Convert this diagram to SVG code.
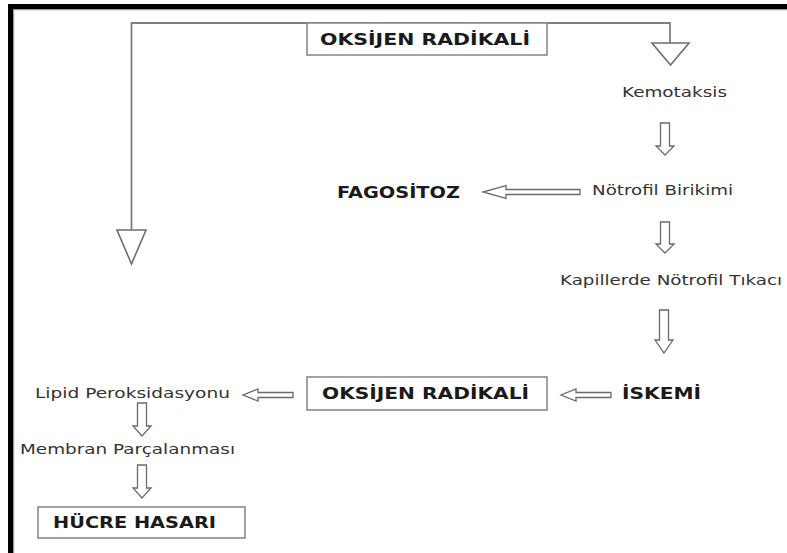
<svg xmlns="http://www.w3.org/2000/svg" width="787" height="553" viewBox="0 0 787 553">
<style>
.bd{font-family:"DejaVu Sans","Liberation Sans",sans-serif;font-weight:bold;font-size:16px;fill:#1a1a1a}
.rg{font-family:"DejaVu Sans","Liberation Sans",sans-serif;font-size:14.5px;fill:#333}
.box{fill:#fff;stroke:#8a8a8a;stroke-width:1.6}
.ln{fill:none;stroke:#808080;stroke-width:1.8}
.tri{fill:#fff;stroke:#6e6e6e;stroke-width:1.6;stroke-linejoin:miter}
.ha{fill:#fff;stroke:#6a6a6a;stroke-width:1.3;stroke-linejoin:miter}
</style>
<rect x="0" y="0" width="787" height="553" fill="#fff"/>
<g id="frame">
<rect x="9" y="4" width="778" height="5" fill="#000"/>
<rect x="8" y="4" width="5" height="549" fill="#000"/>
<line x1="13" y1="9.6" x2="787" y2="9.6" stroke="#9a9a9a" stroke-width="1.2"/>
<line x1="13.6" y1="9" x2="13.6" y2="553" stroke="#9a9a9a" stroke-width="1.2"/>
</g>
<g id="connectors">
<polyline class="ln" points="131.5,230 131.5,23 670,23 670,43"/>
<polygon class="tri" points="117,230 146,230 131.5,264"/>
<polygon class="tri" points="652,43 689,43 670.5,65"/>
<path class="ha" d="M660.5,123 H669.5 V146 H674 L665,155 L656,146 H660.5 Z"/>
<path class="ha" d="M660.5,222 H669.5 V244 H674 L665,253 L656,244 H660.5 Z"/>
<path class="ha" d="M659.5,310 H668.5 V340 H673 L664,353 L655,340 H659.5 Z"/>
<path class="ha" d="M137.5,403 H146.5 V426 H151 L142,436 L133,426 H137.5 Z"/>
<path class="ha" d="M137.5,465 H146.5 V488 H151 L142,498 L133,488 H137.5 Z"/>
<path class="ha" d="M580,189.5 H506 V185.5 L483,192 L506,198.5 V194.5 H580 Z"/>
<path class="ha" d="M611,392.5 H576 V389 L561,395 L576,401 V397.5 H611 Z"/>
<path class="ha" d="M293,392.5 H258 V389 L243,395 L258,401 V397.5 H293 Z"/>
</g>
<g id="oksijen-top">
<rect class="box" x="307" y="23" width="240" height="32"/>
<text class="bd" x="320" y="45" textLength="210" lengthAdjust="spacingAndGlyphs">OKSİJEN RADİKALİ</text>
</g>
<g id="kemotaksis">
<text class="rg" x="622" y="97" textLength="105" lengthAdjust="spacingAndGlyphs">Kemotaksis</text>
</g>
<g id="notrofil-birikimi">
<text class="rg" x="592" y="195" textLength="141" lengthAdjust="spacingAndGlyphs">Nötrofil Birikimi</text>
</g>
<g id="fagositoz">
<text class="bd" x="337" y="198" textLength="123" lengthAdjust="spacingAndGlyphs">FAGOSİTOZ</text>
</g>
<g id="kapillerde">
<text class="rg" x="560" y="285" textLength="222" lengthAdjust="spacingAndGlyphs">Kapillerde Nötrofil Tıkacı</text>
</g>
<g id="iskemi">
<text class="bd" x="622" y="399" textLength="79" lengthAdjust="spacingAndGlyphs">İSKEMİ</text>
</g>
<g id="oksijen-mid">
<rect class="box" x="307" y="377" width="240" height="33"/>
<text class="bd" x="322" y="399" textLength="207" lengthAdjust="spacingAndGlyphs">OKSİJEN RADİKALİ</text>
</g>
<g id="lipid">
<text class="rg" x="35" y="398" textLength="195" lengthAdjust="spacingAndGlyphs">Lipid Peroksidasyonu</text>
</g>
<g id="membran">
<text class="rg" x="20" y="454" textLength="215" lengthAdjust="spacingAndGlyphs">Membran Parçalanması</text>
</g>
<g id="hucre-hasari">
<rect class="box" x="38" y="507" width="207" height="31"/>
<text class="bd" x="53" y="528" textLength="163" lengthAdjust="spacingAndGlyphs">HÜCRE HASARI</text>
</g>
</svg>
